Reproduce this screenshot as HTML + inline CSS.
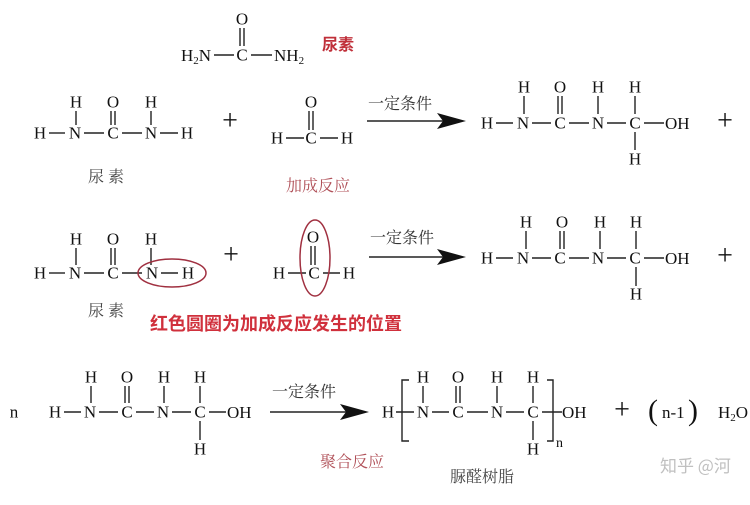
<!DOCTYPE html>
<html><head><meta charset="utf-8"><style>
body{margin:0;background:#fff}
svg text{font-family:"Liberation Serif","Noto Serif CJK SC",serif;font-size:17px;fill:#111}
.c{text-anchor:middle;dominant-baseline:central}
line{stroke:#222;stroke-width:1.4}
.cn{font-family:"Liberation Serif","Noto Serif CJK SC",serif;font-size:16px}
</style></head><body>
<svg width="750" height="500" viewBox="0 0 750 500" xmlns="http://www.w3.org/2000/svg">
<text class="c" x="242" y="19">O</text>
<line x1="240" y1="28" x2="240" y2="46"/><line x1="244" y1="28" x2="244" y2="46"/>
<text x="181" y="61">H<tspan font-size="11" dy="3">2</tspan><tspan dy="-3">N</tspan></text>
<line x1="214" y1="55" x2="234" y2="55"/>
<text class="c" x="242" y="55">C</text>
<line x1="251" y1="55" x2="272" y2="55"/>
<text x="274" y="61">NH<tspan font-size="11" dy="3">2</tspan></text>
<text x="322" y="50" class="cn" style="fill:#c0303a;font-weight:bold;font-family:'Noto Sans CJK SC',sans-serif">尿素</text>

<g>
<text class="c" x="40" y="133">H</text><line x1="49" y1="133" x2="65" y2="133"/>
<text class="c" x="75" y="133">N</text><line x1="84" y1="133" x2="104" y2="133"/>
<text class="c" x="113" y="133">C</text><line x1="122" y1="133" x2="142" y2="133"/>
<text class="c" x="151" y="133">N</text><line x1="160" y1="133" x2="178" y2="133"/>
<text class="c" x="187" y="133">H</text>
<text class="c" x="76" y="102">H</text><line x1="76" y1="111" x2="76" y2="125"/>
<text class="c" x="113" y="102">O</text><line x1="111" y1="111" x2="111" y2="125"/><line x1="115" y1="111" x2="115" y2="125"/>
<text class="c" x="151" y="102">H</text><line x1="151" y1="111" x2="151" y2="125"/>
</g>
<text x="88" y="182" class="cn" style="fill:#444">尿 素</text>
<text class="c" x="230" y="121" style="font-size:28px">+</text>
<text class="c" x="277" y="138">H</text><line x1="286" y1="138" x2="304" y2="138"/>
<text class="c" x="311" y="138">C</text><line x1="320" y1="138" x2="338" y2="138"/>
<text class="c" x="347" y="138">H</text>
<text class="c" x="311" y="102">O</text><line x1="309" y1="111" x2="309" y2="130"/><line x1="313" y1="111" x2="313" y2="130"/>
<text x="286" y="191" class="cn" style="fill:#b05058">加成反应</text>
<text x="368" y="109" class="cn" style="fill:#333">一定条件</text>
<line x1="367" y1="121" x2="445" y2="121"/><polygon points="437,113 466,121 437,129 443,121" fill="#111"/>
<g>
<text class="c" x="487" y="123">H</text><line x1="496" y1="123" x2="513" y2="123"/>
<text class="c" x="523" y="123">N</text><line x1="532" y1="123" x2="551" y2="123"/>
<text class="c" x="560" y="123">C</text><line x1="569" y1="123" x2="589" y2="123"/>
<text class="c" x="598" y="123">N</text><line x1="607" y1="123" x2="626" y2="123"/>
<text class="c" x="635" y="123">C</text><line x1="644" y1="123" x2="664" y2="123"/>
<text x="665" y="129">OH</text>
<text class="c" x="524" y="87">H</text><line x1="524" y1="96" x2="524" y2="114"/>
<text class="c" x="560" y="87">O</text><line x1="558" y1="96" x2="558" y2="114"/><line x1="562" y1="96" x2="562" y2="114"/>
<text class="c" x="598" y="87">H</text><line x1="598" y1="96" x2="598" y2="114"/>
<text class="c" x="635" y="87">H</text><line x1="635" y1="96" x2="635" y2="114"/>
<line x1="635" y1="132" x2="635" y2="150"/><text class="c" x="635" y="159">H</text>
</g>
<text class="c" x="725" y="121" style="font-size:28px">+</text>

<g>
<text class="c" x="40" y="273">H</text><line x1="49" y1="273" x2="65" y2="273"/>
<text class="c" x="75" y="273">N</text><line x1="84" y1="273" x2="104" y2="273"/>
<text class="c" x="113" y="273">C</text><line x1="122" y1="273" x2="142" y2="273"/>
<text class="c" x="152" y="273">N</text><line x1="161" y1="273" x2="178" y2="273"/>
<text class="c" x="188" y="273">H</text>
<text class="c" x="76" y="239">H</text><line x1="76" y1="248" x2="76" y2="265"/>
<text class="c" x="113" y="239">O</text><line x1="111" y1="248" x2="111" y2="265"/><line x1="115" y1="248" x2="115" y2="265"/>
<text class="c" x="151" y="239">H</text><line x1="151" y1="248" x2="151" y2="265"/>
</g>
<ellipse cx="172" cy="273" rx="34" ry="14" fill="none" stroke="#a03040" stroke-width="1.5"/>
<text x="88" y="316" class="cn" style="fill:#444">尿 素</text>
<text class="c" x="231" y="255" style="font-size:28px">+</text>
<text class="c" x="279" y="273">H</text><line x1="288" y1="273" x2="306" y2="273"/>
<text class="c" x="314" y="273">C</text><line x1="323" y1="273" x2="340" y2="273"/>
<text class="c" x="349" y="273">H</text>
<text class="c" x="313" y="237">O</text><line x1="311" y1="246" x2="311" y2="265"/><line x1="315" y1="246" x2="315" y2="265"/>
<ellipse cx="315" cy="258" rx="15" ry="38" fill="none" stroke="#a03040" stroke-width="1.5"/>
<text x="150" y="330" textLength="252" lengthAdjust="spacingAndGlyphs" style="fill:#d0303c;font-weight:bold;font-size:18px;font-family:'Noto Sans CJK SC',sans-serif">红色圆圈为加成反应发生的位置</text>
<text x="370" y="243" class="cn" style="fill:#333">一定条件</text>
<line x1="369" y1="257" x2="445" y2="257"/><polygon points="437,249 466,257 437,265 443,257" fill="#111"/>
<g>
<text class="c" x="487" y="258">H</text><line x1="496" y1="258" x2="513" y2="258"/>
<text class="c" x="523" y="258">N</text><line x1="532" y1="258" x2="551" y2="258"/>
<text class="c" x="560" y="258">C</text><line x1="569" y1="258" x2="589" y2="258"/>
<text class="c" x="598" y="258">N</text><line x1="607" y1="258" x2="626" y2="258"/>
<text class="c" x="635" y="258">C</text><line x1="644" y1="258" x2="664" y2="258"/>
<text x="665" y="264">OH</text>
<text class="c" x="526" y="222">H</text><line x1="526" y1="231" x2="526" y2="249"/>
<text class="c" x="562" y="222">O</text><line x1="560" y1="231" x2="560" y2="249"/><line x1="564" y1="231" x2="564" y2="249"/>
<text class="c" x="600" y="222">H</text><line x1="600" y1="231" x2="600" y2="249"/>
<text class="c" x="636" y="222">H</text><line x1="636" y1="231" x2="636" y2="249"/>
<line x1="636" y1="267" x2="636" y2="286"/><text class="c" x="636" y="294">H</text>
</g>
<text class="c" x="725" y="256" style="font-size:28px">+</text>

<text class="c" x="14" y="412">n</text>
<g>
<text class="c" x="55" y="412">H</text><line x1="64" y1="412" x2="81" y2="412"/>
<text class="c" x="90" y="412">N</text><line x1="99" y1="412" x2="118" y2="412"/>
<text class="c" x="127" y="412">C</text><line x1="136" y1="412" x2="154" y2="412"/>
<text class="c" x="163" y="412">N</text><line x1="172" y1="412" x2="191" y2="412"/>
<text class="c" x="200" y="412">C</text><line x1="209" y1="412" x2="226" y2="412"/>
<text x="227" y="418">OH</text>
<text class="c" x="91" y="377">H</text><line x1="91" y1="386" x2="91" y2="403"/>
<text class="c" x="127" y="377">O</text><line x1="125" y1="386" x2="125" y2="403"/><line x1="129" y1="386" x2="129" y2="403"/>
<text class="c" x="164" y="377">H</text><line x1="164" y1="386" x2="164" y2="403"/>
<text class="c" x="200" y="377">H</text><line x1="200" y1="386" x2="200" y2="403"/>
<line x1="200" y1="421" x2="200" y2="440"/><text class="c" x="200" y="449">H</text>
</g>
<text x="272" y="397" class="cn" style="fill:#333">一定条件</text>
<line x1="270" y1="412" x2="348" y2="412"/><polygon points="340,404 369,412 340,420 346,412" fill="#111"/>
<text x="320" y="467" class="cn" style="fill:#b05058">聚合反应</text>
<g>
<text class="c" x="388" y="412">H</text><line x1="396" y1="412" x2="414" y2="412"/>
<polyline points="409,380 402,380 402,441 409,441" fill="none" stroke="#222" stroke-width="1.4"/>
<text class="c" x="423" y="412">N</text><line x1="432" y1="412" x2="449" y2="412"/>
<text class="c" x="458" y="412">C</text><line x1="467" y1="412" x2="488" y2="412"/>
<text class="c" x="497" y="412">N</text><line x1="506" y1="412" x2="524" y2="412"/>
<text class="c" x="533" y="412">C</text><line x1="542" y1="412" x2="562" y2="412"/>
<polyline points="547,380 553,380 553,441 547,441" fill="none" stroke="#222" stroke-width="1.4"/>
<text x="562" y="418">OH</text>
<text x="556" y="447" style="font-size:14px">n</text>
<text class="c" x="423" y="377">H</text><line x1="423" y1="386" x2="423" y2="403"/>
<text class="c" x="458" y="377">O</text><line x1="456" y1="386" x2="456" y2="403"/><line x1="460" y1="386" x2="460" y2="403"/>
<text class="c" x="497" y="377">H</text><line x1="497" y1="386" x2="497" y2="403"/>
<text class="c" x="533" y="377">H</text><line x1="533" y1="386" x2="533" y2="403"/>
<line x1="533" y1="421" x2="533" y2="440"/><text class="c" x="533" y="449">H</text>
</g>
<text x="450" y="482" class="cn" style="fill:#444">脲醛树脂</text>
<text class="c" x="622" y="410" style="font-size:28px">+</text>
<text x="648" y="420" style="font-size:30px;font-weight:100">(</text>
<text x="662" y="418">n-1</text>
<text x="688" y="420" style="font-size:30px;font-weight:100">)</text>
<text x="718" y="418">H<tspan font-size="11" dy="3">2</tspan><tspan dy="-3">O</tspan></text>
<text x="660" y="472" style="fill:#c0c0c0;font-size:17px;font-family:'Noto Sans CJK SC',sans-serif">知乎 @河</text>
</svg>
</body></html>
